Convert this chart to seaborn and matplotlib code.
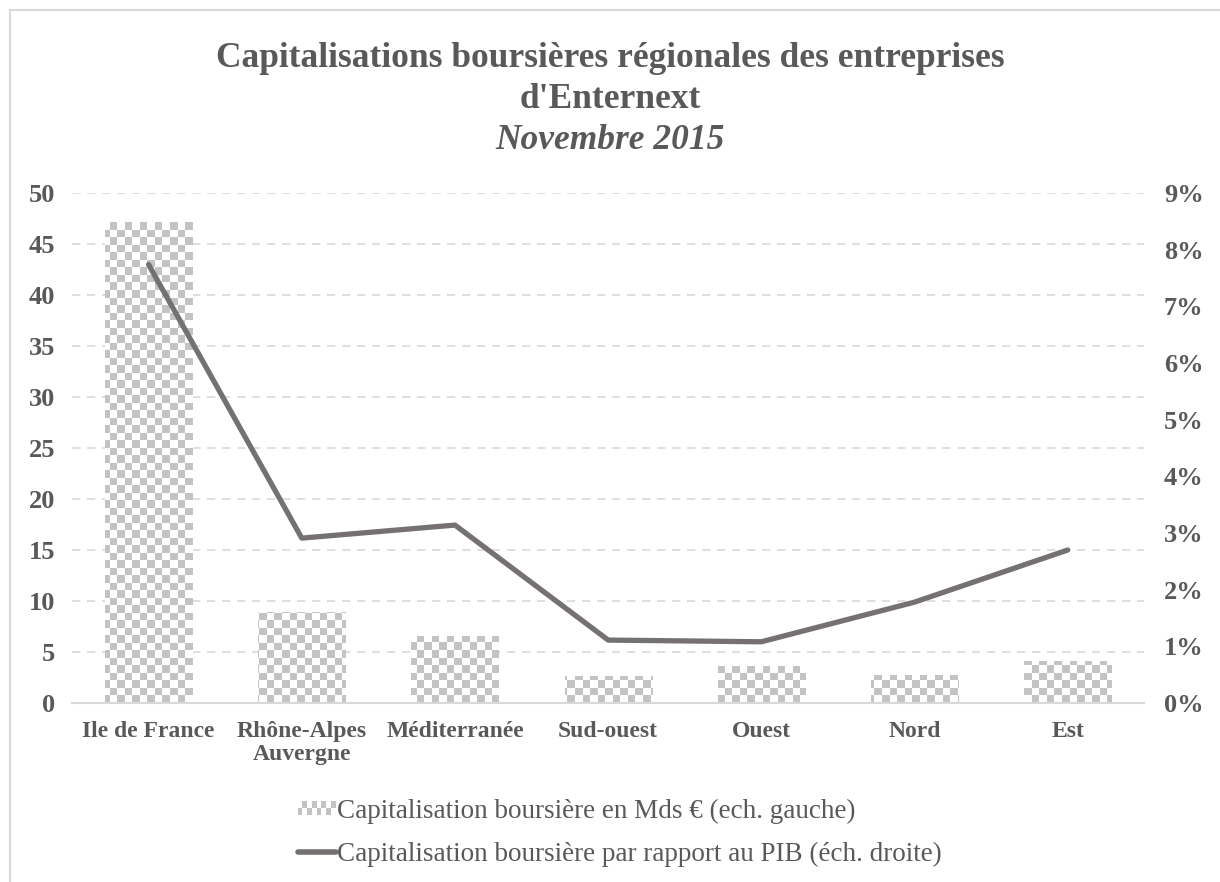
import numpy as np
import pandas as pd
import matplotlib
matplotlib.use("Agg")
import matplotlib.pyplot as plt
import seaborn as sns
from matplotlib.patches import Patch, Rectangle
from matplotlib.lines import Line2D
from matplotlib.legend_handler import HandlerBase
from matplotlib.ticker import PercentFormatter

# données
regions = ["Ile de France", "Rhône-Alpes\nAuvergne", "Méditerranée", "Sud-ouest",
           "Ouest", "Nord", "Est"]
capi_mds = [47.2, 8.9, 6.6, 2.6, 3.6, 2.7, 4.1]
capi_pib = [0.0774, 0.0291, 0.0314, 0.0111, 0.0108, 0.0178, 0.0270]

df = pd.DataFrame({"region": regions, "capi": capi_mds, "pib": capi_pib})

sns.set_theme(style="white")
plt.rcParams["font.family"] = ["Liberation Serif", "DejaVu Serif"]

grey_txt = "#595959"
grid_c = "#d9d9d9"
line_c = "#767171"
check_c = "#c3c3c3"


class CheckerHandler(HandlerBase):
    # petit damier pour la légende des barres
    def create_artists(self, legend, orig_handle, xdescent, ydescent, width,
                       height, fontsize, trans):
        arts = []
        ncol, nrow = 8, 2
        h = height * 0.75
        y0 = (height - h) / 2 - ydescent
        cw, ch = width / ncol, h / nrow
        for i in range(ncol):
            for j in range(nrow):
                if (i + j) % 2 == 0:
                    arts.append(Rectangle((-xdescent + i * cw, y0 + j * ch), cw, ch,
                                          facecolor=check_c, edgecolor="none",
                                          transform=trans))
        return arts


fig = plt.figure(figsize=(12.2, 8.82), dpi=100)
ax = fig.add_axes([0.059, 0.203, 0.879, 0.578])

sns.barplot(data=df, x="region", y="capi", ax=ax, color="white", width=0.57,
            saturation=1, edgecolor="none", zorder=2)

# damier dans chaque barre
checker = (np.indices((68, 143)).sum(axis=0) % 2).astype(float)
for bar in ax.patches:
    im = ax.imshow(checker, extent=(-0.5, 6.5, 0, 50), aspect="auto",
                   cmap=matplotlib.colors.ListedColormap(["#ffffff", check_c]),
                   interpolation="nearest", zorder=2)
    im.set_clip_path(bar)

ax.set_ylim(0, 50)
ax.set_xlim(-0.5, 6.5)
ax.set_yticks(range(0, 51, 5))
ax.yaxis.grid(True, linestyle=(0, (5, 4)), color=grid_c, linewidth=1.2, zorder=0)
ax.set_axisbelow(True)
ax.set_xlabel("")
ax.set_ylabel("")
for s in ["top", "right", "left"]:
    ax.spines[s].set_visible(False)
ax.spines["bottom"].set_color(grid_c)
ax.spines["bottom"].set_linewidth(1.5)
ax.tick_params(axis="both", length=0, labelcolor=grey_txt)
ax.tick_params(axis="y", pad=12, labelsize=19)
ax.tick_params(axis="x", pad=13, labelsize=17)
for t in ax.get_xticklabels() + ax.get_yticklabels():
    t.set_fontweight("bold")
for t in ax.get_xticklabels():
    t.set_linespacing(1.1)

ax2 = ax.twinx()
sns.lineplot(x=np.arange(len(regions)), y=capi_pib, ax=ax2, color=line_c,
             linewidth=3.8, zorder=3)
ax2.set_ylim(0, 0.09)
ax2.set_yticks(np.arange(0, 0.091, 0.01))
ax2.yaxis.set_major_formatter(PercentFormatter(1.0, decimals=0))
for s in ["top", "right", "left", "bottom"]:
    ax2.spines[s].set_visible(False)
ax2.tick_params(axis="y", length=0, labelsize=19, labelcolor=grey_txt, pad=14)
for t in ax2.get_yticklabels():
    t.set_fontweight("bold")
ax2.set_ylabel("")

# titre
fig.text(0.5, 0.934, "Capitalisations boursières régionales des entreprises",
         ha="center", va="center", fontsize=25.5, fontweight="bold", color=grey_txt)
fig.text(0.5, 0.887, "d'Enternext", ha="center", va="center", fontsize=25.5,
         fontweight="bold", color=grey_txt)
fig.text(0.5, 0.841, "Novembre 2015", ha="center", va="center", fontsize=25.5,
         fontstyle="italic", fontweight="bold", color=grey_txt)

# légende
handles = [Patch(facecolor=check_c), Line2D([0], [0], color=line_c, linewidth=4)]
labels = ["Capitalisation boursière en Mds € (ech. gauche)",
          "Capitalisation boursière par rapport au PIB (éch. droite)"]
leg = fig.legend(handles, labels, loc="center", bbox_to_anchor=(0.508, 0.0556),
                 ncol=1, frameon=False, fontsize=19.5, handlelength=1.4,
                 handletextpad=0.05, labelspacing=0.68,
                 handler_map={Patch: CheckerHandler()})
for t in leg.get_texts():
    t.set_color(grey_txt)

# cadre
fig.add_artist(Line2D([10 / 1220, 1], [1 - 10 / 882] * 2, color=grid_c,
                      linewidth=1.5, transform=fig.transFigure))
fig.add_artist(Line2D([10 / 1220] * 2, [0, 1 - 10 / 882], color=grid_c,
                      linewidth=1.5, transform=fig.transFigure))

fig.savefig("out.png", dpi=100)
